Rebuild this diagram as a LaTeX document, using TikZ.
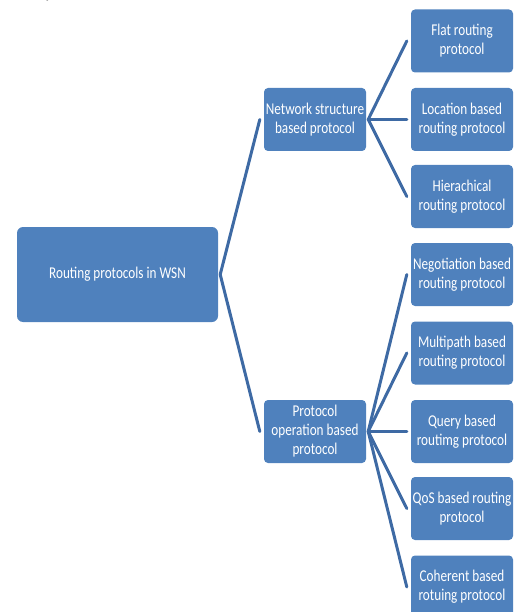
\documentclass[tikz,border=0pt]{standalone}
\usepackage{fontspec}
\setmainfont[FakeStretch=0.8]{Carlito}
\newfontfamily\serifpart{Liberation Serif}
\definecolor{boxblue}{RGB}{79,129,189}
\definecolor{linkblue}{RGB}{62,106,164}
\begin{document}
\begin{tikzpicture}[x=1pt,y=-1pt,
  box/.style={fill=boxblue, rounded corners=4pt, inner sep=0pt,
    minimum width=102pt, minimum height=63pt, text=white, align=center,
    font=\fontsize{16.5}{19}\selectfont},
  rootbox/.style={box, rounded corners=6pt, minimum width=201pt, minimum height=95pt},
  link/.style={draw=linkblue, line width=3pt, line cap=round}]
\useasboundingbox (0,0) rectangle (515,612);

% fragment of a letter from the preceding line of text
\node[anchor=base, inner sep=0pt, font=\serifpart\fontsize{11}{13}\selectfont] (frag) at (49,-1) {y};

% root
\node[rootbox] (root) at (117.5,274.5) {Routing protocols in WSN};

% second level
\node[box] (net) at (315,119.5) {Network structure\\based protocol};
\node[box] (ops) at (315,431.5) {Protocol\\operation based\\protocol};

% leaves
\node[box] (flat) at (462,41)    {Flat routing\\protocol};
\node[box] (loc)  at (462,119.5) {Location based\\routing protocol};
\node[box] (hier) at (462,196.5) {Hierachical\\routing protocol};
\node[box] (neg)  at (462,274.5) {Negotiation based\\routing protocol};
\node[box] (mult) at (462,353)   {Multipath based\\routing protocol};
\node[box] (qry)  at (462,431.5) {Query based\\routimg protocol};
\node[box] (qos)  at (462,508.5) {QoS based routing\\protocol};
\node[box] (coh)  at (462,587)   {Coherent based\\rotuing protocol};

% connectors
\foreach \c in {net,ops}
  \draw[link] ([xshift=2pt]root.east) -- ([xshift=-4pt]\c.west);
\foreach \c in {flat,loc,hier}
  \draw[link] ([xshift=2pt]net.east) -- ([xshift=-4pt]\c.west);
\foreach \c in {neg,mult,qry,qos,coh}
  \draw[link] ([xshift=2pt]ops.east) -- ([xshift=-4pt]\c.west);
\end{tikzpicture}
\end{document}
